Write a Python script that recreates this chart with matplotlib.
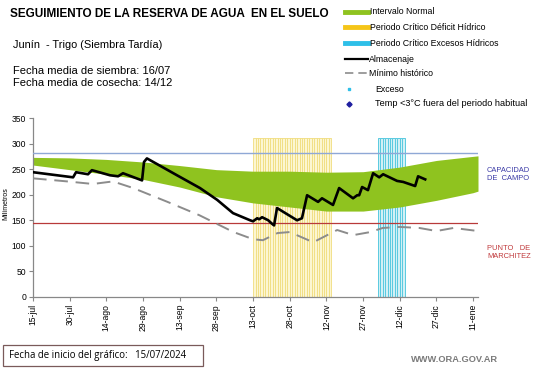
import matplotlib
matplotlib.use("Agg")
import matplotlib.pyplot as plt
import numpy as np
from matplotlib.patches import Rectangle
from matplotlib.lines import Line2D

plt.rcParams['font.family'] = ['Liberation Sans', 'DejaVu Sans']

# ---------------- data (day 0 = 15-jul-2024) ----------------
tick_days = [0, 15, 30, 45, 60, 75, 90, 105, 120, 135, 150, 165, 180]
tick_labels = ['15-jul', '30-jul', '14-ago', '29-ago', '13-sep', '28-sep', '13-oct',
               '28-oct', '12-nov', '27-nov', '12-dic', '27-dic', '11-ene']

band_days = [0, 15, 30, 45, 60, 75, 90, 105, 120, 135, 150, 165, 180, 182]
band_upper = [273, 272, 269, 264, 257, 249, 246, 246, 244, 245, 254, 267, 275, 276]
band_lower = [258, 249, 240, 230, 215, 196, 184, 176, 168, 168, 176, 189, 204, 207]

alm_days = [0, 16.4, 17.6, 22.5, 24.1, 31.5, 34.8, 36.8, 44.6, 45.4, 46.6, 58.9, 68.3,
            75.3, 81.8, 88.8, 90, 91.7, 92.5, 93.7, 96.2, 97.8, 98.6, 99.8, 108, 110,
            112.1, 116.6, 118.2, 122.7, 125.2, 130.9, 132.6, 133.4, 134.6, 137, 139.1,
            141.6, 143.2, 148.9, 151.4, 156.3, 157.5, 160.4]
alm_vals = [244, 234, 244, 240, 248, 238, 236, 242, 228, 264, 271, 238, 213,
            190, 164, 150, 148, 154, 152, 156, 150, 143, 140, 174, 150, 154,
            199, 186, 193, 180, 213, 193, 199, 199, 215, 209, 242,
            234, 240, 227, 225, 217, 236, 230]

min_days = [0, 14, 24.5, 32.7, 41, 55, 68, 82, 90, 94, 100, 105, 114.6, 124.4, 131,
            138, 143, 150, 158, 165, 172, 182]
min_vals = [232, 226, 221, 226, 213, 186, 160, 127, 113, 111, 125, 127, 107, 131, 121,
            127, 135, 137, 135, 129, 135, 129]

deficit_days = list(range(90, 122))
exceso_days = list(range(141, 152))
period_height = 310

capacidad_campo = 281
punto_marchitez = 145

# ---------------- figure ----------------
W, H = 541, 368
fig = plt.figure(figsize=(W / 100, H / 100), dpi=100)
ax = fig.add_axes([33 / W, 1 - 297 / H, (478 - 33) / W, (297 - 118) / H])

# critical periods (daily bars)
ax.bar(deficit_days, [period_height] * len(deficit_days), width=1.0, align='edge',
       facecolor='#FCF6D2', edgecolor='#F0DD7E', linewidth=0.6, zorder=1)
ax.bar(exceso_days, [period_height] * len(exceso_days), width=1.0, align='edge',
       facecolor='#D2F0F5', edgecolor='#5ACAE0', linewidth=0.7, zorder=1)

# normal interval
ax.fill_between(band_days, band_lower, band_upper, color='#8FC31F', linewidth=0, zorder=2)

# reference lines
ax.axhline(capacidad_campo, color='#8FA8D6', linewidth=1.0, zorder=3)
ax.axhline(punto_marchitez, color='#B83A3A', linewidth=0.9, zorder=3)

# minimum historic
ax.plot(min_days, min_vals, color='#8C8C8C', linewidth=1.4, dashes=(7, 4), zorder=4)
# storage
ax.plot(alm_days, alm_vals, color='black', linewidth=1.9, zorder=5)

ax.set_xlim(0, 182)
ax.set_ylim(0, 350)
ax.set_yticks(range(0, 351, 50))
ax.set_xticks(tick_days)
ax.set_xticklabels(tick_labels, rotation=90, fontsize=6.2)
ax.tick_params(axis='y', labelsize=6.2, length=3, color='#888888', pad=2)
ax.tick_params(axis='x', length=3, color='#888888', pad=2)
for s in ['top', 'right']:
    ax.spines[s].set_visible(False)
for s in ['left', 'bottom']:
    ax.spines[s].set_color('#888888')
    ax.spines[s].set_linewidth(0.9)
ax.set_ylabel('Milímetros', fontsize=5, labelpad=-6)
ax.yaxis.set_label_coords(-0.052, 0.52)

# ---------------- overlay for texts in pixel coords ----------------
ov = fig.add_axes([0, 0, 1, 1], facecolor='none')
ov.set_xlim(0, W)
ov.set_ylim(H, 0)
ov.axis('off')

ov.text(10, 14, 'SEGUIMIENTO DE LA RESERVA DE AGUA  EN EL SUELO', fontsize=8.5,
        fontweight='bold', va='center', ha='left')
ov.text(13, 45, 'Junín  - Trigo (Siembra Tardía)', fontsize=7.9, va='center')
ov.text(13, 71, 'Fecha media de siembra: 16/07', fontsize=8.0, va='center')
ov.text(13, 83, 'Fecha media de cosecha: 14/12', fontsize=8.0, va='center')

# legend
leg_y = [12, 27, 43, 59, 73, 89, 104]
ov.add_line(Line2D([345, 368], [leg_y[0], leg_y[0]], color='#8FC31F', linewidth=3.5))
ov.add_line(Line2D([345, 368], [leg_y[1], leg_y[1]], color='#F5C518', linewidth=3.5))
ov.add_line(Line2D([345, 368], [leg_y[2], leg_y[2]], color='#2EBFE8', linewidth=3.5))
ov.add_line(Line2D([345, 368], [leg_y[3], leg_y[3]], color='black', linewidth=1.6))
ov.add_line(Line2D([345, 368], [leg_y[4], leg_y[4]], color='#8C8C8C', linewidth=1.2,
                   dashes=(5, 3)))
ov.plot([349], [leg_y[5]], marker='s', markersize=2, color='#2EBFE8', linestyle='none')
ov.plot([349], [leg_y[6]], marker='D', markersize=2.6, color='#1F1FA0', linestyle='none')
leg_txt = ['Intervalo Normal', 'Periodo Crítico Déficit Hídrico',
           'Periodo Crítico Excesos Hídricos', 'Almacenaje', 'Mínimo histórico',
           'Exceso', 'Temp <3°C fuera del periodo habitual']
leg_x = [370, 370, 370, 369, 369, 375, 375]
leg_fs = [6.3, 6.3, 6.3, 6.3, 6.3, 6.3, 6.6]
for x, y, t, fs in zip(leg_x, leg_y, leg_txt, leg_fs):
    ov.text(x, y, t, fontsize=fs, va='center', ha='left')

# right annotations
ov.text(487, 174, 'CAPACIDAD\nDE  CAMPO', fontsize=5.4, color='#3A3AA6', va='center',
        linespacing=1.2)
ov.text(487, 252, 'PUNTO   DE\nMARCHITEZ', fontsize=5.4, color='#C0393B', va='center',
        linespacing=1.2)

# bottom box
ov.add_patch(Rectangle((3, 345), 200, 21, facecolor='white', edgecolor='#7A5A5A',
                       linewidth=0.9))
ov.text(9, 355.5, 'Fecha de inicio del gráfico:   15/07/2024', fontsize=6.95,
        family=['Open Sans', 'DejaVu Sans'], va='center')
ov.text(498, 360, 'WWW.ORA.GOV.AR', fontsize=6.7, color='#7A7A7A', fontweight='bold',
        ha='right', va='center')

fig.savefig('out.png', dpi=100)
